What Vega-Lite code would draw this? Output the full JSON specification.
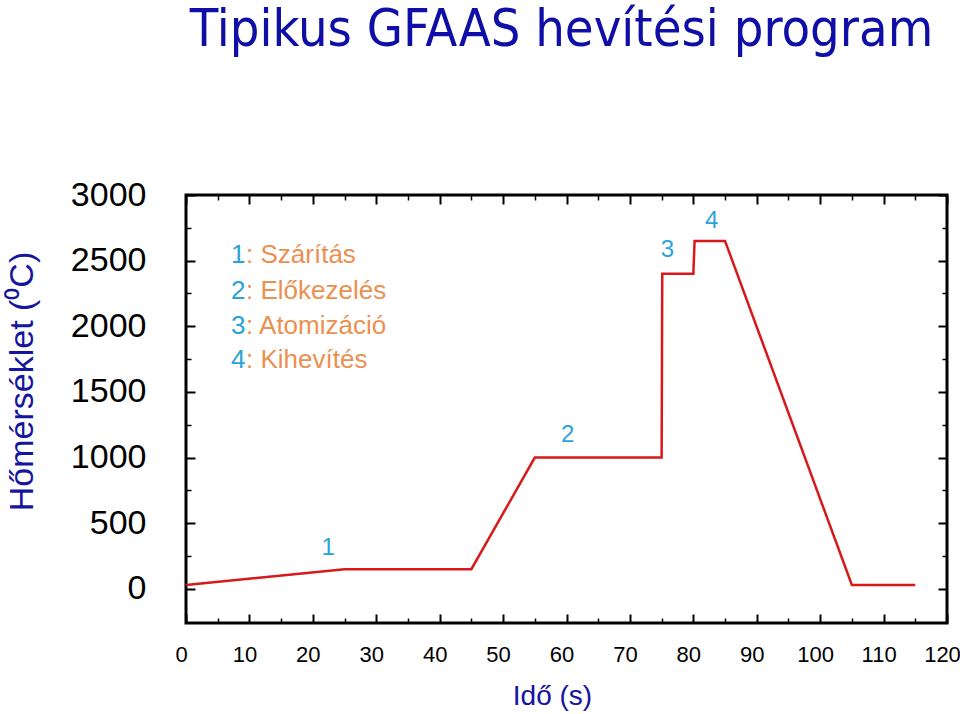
{
  "$schema": "https://vega.github.io/schema/vega-lite/v6.json",
  "width": 761,
  "height": 428,
  "autosize": {"type": "none"},
  "padding": {"left": 186, "top": 195, "right": 13, "bottom": 91},
  "background": "white",
  "title": {
    "text": "Tipikus GFAAS hevítési program",
    "font": "DejaVu Sans Condensed, DejaVu Sans",
    "fontSize": 52,
    "fontWeight": "normal",
    "color": "#0f0fa8",
    "anchor": "middle",
    "baseline": "alphabetic",
    "offset": 80,
    "dx": -5
  },
  "config": {
    "view": {"stroke": "#000", "strokeWidth": 3},
    "axis": {"domain": false, "grid": false, "tickColor": "#000", "labelColor": "#000", "labelFont": "Liberation Sans"}
  },
  "datasets": {
    "temp": [
      {"i": 1, "t": 0, "T": 30},
      {"i": 2, "t": 25, "T": 150},
      {"i": 3, "t": 45, "T": 150},
      {"i": 4, "t": 55, "T": 1000},
      {"i": 5, "t": 75, "T": 1000},
      {"i": 6, "t": 75.1, "T": 2400},
      {"i": 7, "t": 80, "T": 2400},
      {"i": 8, "t": 80.2, "T": 2650},
      {"i": 9, "t": 85, "T": 2650},
      {"i": 10, "t": 105, "T": 30},
      {"i": 11, "t": 115, "T": 30}
    ],
    "steps": [
      {"x": 22.4, "y": 258, "num": "1"},
      {"x": 60.2, "y": 1121, "num": "2"},
      {"x": 75.9, "y": 2525, "num": "3"},
      {"x": 82.9, "y": 2746, "num": "4"}
    ],
    "legend": [
      {"x": 7.1, "y": 2480, "num": "1", "label": ": Szárítás"},
      {"x": 7.1, "y": 2206, "num": "2", "label": ": Előkezelés"},
      {"x": 7.1, "y": 1941, "num": "3", "label": ": Atomizáció"},
      {"x": 7.1, "y": 1682, "num": "4", "label": ": Kihevítés"}
    ]
  },
  "resolve": {"axis": {"x": "independent", "y": "independent"}},
  "layer": [
    {
      "data": {"name": "temp"},
      "mark": {"type": "line", "color": "#d7191c", "strokeWidth": 2.5},
      "encoding": {
        "x": {"field": "t", "type": "quantitative", "scale": {"domain": [0, 120], "nice": false},
          "axis": {"orient": "bottom", "values": [0,10,20,30,40,50,60,70,80,90,100,110,120], "tickSize": -9, "tickWidth": 2, "labelPadding": 30, "labelFontSize": 22, "labelFlush": false, "labelOffset": -5, "format": "d",
            "title": "Idő (s)", "titleFont": "Liberation Sans", "titleFontSize": 28, "titleFontWeight": "normal", "titleColor": "#1515a0", "titleX": 366, "titleY": 81, "titleBaseline": "alphabetic", "titleAlign": "center"}},
        "y": {"field": "T", "type": "quantitative", "scale": {"domain": [-260, 3000], "nice": false},
          "axis": {"orient": "left", "values": [0,500,1000,1500,2000,2500,3000], "tickSize": -9, "tickWidth": 2, "labelPadding": 49, "labelFontSize": 34, "labelFlush": false, "format": "d",
            "title": "Hőmérséklet (⁰C)", "titleFont": "Liberation Sans", "titleFontSize": 34, "titleFontWeight": "normal", "titleColor": "#1515a0", "titleAngle": -90, "titleX": -154, "titleY": 186, "titleBaseline": "alphabetic", "titleAlign": "center"}},
        "order": {"field": "i"}
      }
    },
    {
      "data": {"name": "temp"},
      "mark": {"type": "line", "opacity": 0},
      "encoding": {
        "x": {"field": "t", "type": "quantitative", "scale": {"domain": [0, 120], "nice": false},
          "axis": {"orient": "top", "values": [0,10,20,30,40,50,60,70,80,90,100,110,120], "tickSize": -9, "tickWidth": 2, "labels": false, "title": null}},
        "y": {"field": "T", "type": "quantitative", "scale": {"domain": [-260, 3000], "nice": false},
          "axis": {"orient": "right", "values": [0,500,1000,1500,2000,2500,3000], "tickSize": -9, "tickWidth": 2, "labels": false, "title": null}},
        "order": {"field": "i"}
      }
    },
    {
      "data": {"name": "temp"},
      "mark": {"type": "line", "opacity": 0},
      "encoding": {
        "x": {"field": "t", "type": "quantitative", "scale": {"domain": [0, 120], "nice": false},
          "axis": {"orient": "bottom", "values": [5,15,25,35,45,55,65,75,85,95,105,115], "tickSize": -5, "tickWidth": 1.5, "labels": false, "title": null}},
        "y": {"field": "T", "type": "quantitative", "scale": {"domain": [-260, 3000], "nice": false},
          "axis": {"orient": "left", "values": [250,750,1250,1750,2250,2750], "tickSize": -5, "tickWidth": 1.5, "labels": false, "title": null}},
        "order": {"field": "i"}
      }
    },
    {
      "data": {"name": "temp"},
      "mark": {"type": "line", "opacity": 0},
      "encoding": {
        "x": {"field": "t", "type": "quantitative", "scale": {"domain": [0, 120], "nice": false},
          "axis": {"orient": "top", "values": [5,15,25,35,45,55,65,75,85,95,105,115], "tickSize": -5, "tickWidth": 1.5, "labels": false, "title": null}},
        "y": {"field": "T", "type": "quantitative", "scale": {"domain": [-260, 3000], "nice": false},
          "axis": {"orient": "right", "values": [250,750,1250,1750,2250,2750], "tickSize": -5, "tickWidth": 1.5, "labels": false, "title": null}},
        "order": {"field": "i"}
      }
    },
    {
      "data": {"name": "steps"},
      "mark": {"type": "text", "font": "Liberation Sans", "fontSize": 24, "color": "#2ba3d9", "align": "center", "baseline": "alphabetic"},
      "encoding": {
        "x": {"field": "x", "type": "quantitative", "scale": {"domain": [0, 120], "nice": false}, "axis": null},
        "y": {"field": "y", "type": "quantitative", "scale": {"domain": [-260, 3000], "nice": false}, "axis": null},
        "text": {"field": "num"}
      }
    },
    {
      "data": {"name": "legend"},
      "mark": {"type": "text", "font": "Liberation Sans", "fontSize": 26, "color": "#2ba3d9", "align": "left", "baseline": "alphabetic"},
      "encoding": {
        "x": {"field": "x", "type": "quantitative", "scale": {"domain": [0, 120], "nice": false}, "axis": null},
        "y": {"field": "y", "type": "quantitative", "scale": {"domain": [-260, 3000], "nice": false}, "axis": null},
        "text": {"field": "num"}
      }
    },
    {
      "data": {"name": "legend"},
      "mark": {"type": "text", "font": "Liberation Sans", "fontSize": 26, "color": "#ec9050", "align": "left", "baseline": "alphabetic", "dx": 15},
      "encoding": {
        "x": {"field": "x", "type": "quantitative", "scale": {"domain": [0, 120], "nice": false}, "axis": null},
        "y": {"field": "y", "type": "quantitative", "scale": {"domain": [-260, 3000], "nice": false}, "axis": null},
        "text": {"field": "label"}
      }
    }
  ]
}
